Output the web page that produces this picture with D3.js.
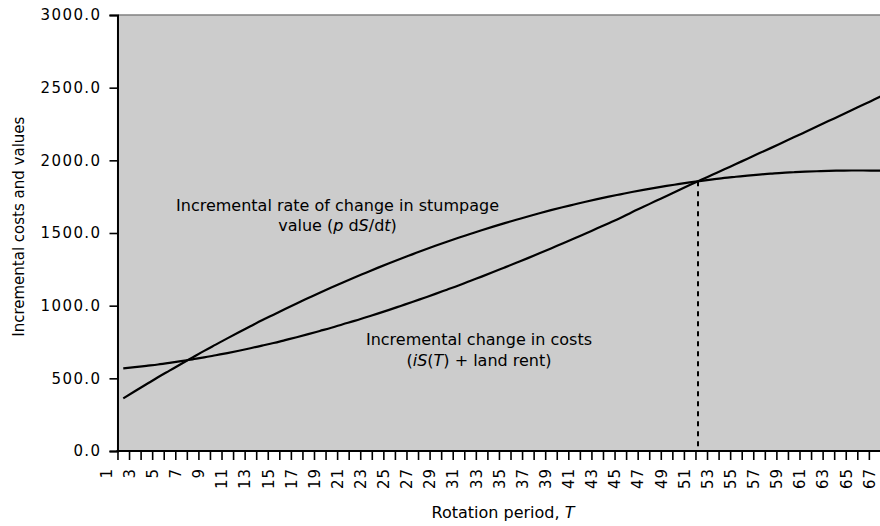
<!DOCTYPE html>
<html>
<head>
<meta charset="utf-8">
<script src="https://cdn.jsdelivr.net/npm/d3@7"></script>
<style>
  html, body { margin: 0; padding: 0; background: #ffffff; }
  svg { display: block; }
  text { font-family: "DejaVu Sans", "Liberation Sans", sans-serif; fill: #000; }
</style>
</head>
<body>
<svg id="chart" width="880" height="526"></svg>
<script>
// Rotation period T (years) at which each incremental value is plotted
const periods = [2,3,4,5,6,7,8,9,10,11,12,13,14,15,16,17,18,19,20,21,22,23,24,25,26,27,28,29,30,
  31,32,33,34,35,36,37,38,39,40,41,42,43,44,45,46,47,48,49,50,51,52,53,54,55,56,57,58,59,60,
  61,62,63,64,65,66,67,68];

// Incremental rate of change in stumpage value, p dS/dt
const stumpageRate = [362,411,459,507,553,599,644,689,732,775,817,858,899,938,977,1015,1052,1089,
  1125,1160,1194,1227,1260,1292,1323,1353,1383,1412,1440,1467,1493,1519,1544,1568,1591,1614,1636,
  1657,1677,1696,1715,1733,1750,1766,1782,1797,1811,1824,1836,1848,1859,1869,1879,1887,1895,1902,
  1908,1914,1918,1922,1925,1928,1929,1930,1930,1929,1928];

// Incremental change in costs, iS(T) + land rent
const costChange = [569,577,586,595,606,618,631,644,659,674,690,707,725,743,763,783,804,826,848,
  872,895,920,945,971,998,1025,1053,1081,1110,1139,1170,1200,1231,1263,1295,1327,1360,1394,1428,
  1462,1497,1532,1567,1603,1643,1680,1718,1755,1793,1830,1866,1902,1938,1975,2011,2048,2084,2121,
  2158,2195,2232,2270,2307,2345,2382,2420,2458];

// Axis tick values and labels
const periodLabels = [1,3,5,7,9,11,13,15,17,19,21,23,25,27,29,31,33,35,37,39,41,43,45,47,49,51,
  53,55,57,59,61,63,65,67];
const periodBounds = [1.5,2.5,3.5,4.5,5.5,6.5,7.5,8.5,9.5,10.5,11.5,12.5,13.5,14.5,15.5,16.5,17.5,
  18.5,19.5,20.5,21.5,22.5,23.5,24.5,25.5,26.5,27.5,28.5,29.5,30.5,31.5,32.5,33.5,34.5,35.5,36.5,
  37.5,38.5,39.5,40.5,41.5,42.5,43.5,44.5,45.5,46.5,47.5,48.5,49.5,50.5,51.5,52.5,53.5,54.5,55.5,
  56.5,57.5,58.5,59.5,60.5,61.5,62.5,63.5,64.5,65.5,66.5,67.5];
const valueTicks = [0,500,1000,1500,2000,2500,3000];

const svg = d3.select("#chart");
const W = 880;

const x = d3.scaleLinear().domain([1, 68]).range([111.7, 886.2]);
const y = d3.scaleLinear().domain([0, 3000]).range([451, 15]);

const plotLeft = x(1.5), plotRight = x(68.5), plotTop = y(3000), plotBottom = y(0);

// plot area
svg.append("rect")
  .attr("x", plotLeft).attr("y", plotTop)
  .attr("width", plotRight - plotLeft).attr("height", plotBottom - plotTop)
  .attr("fill", "#cccccc");
svg.append("line")
  .attr("x1", plotLeft).attr("x2", W).attr("y1", plotTop).attr("y2", plotTop)
  .attr("stroke", "#808080").attr("stroke-width", 1.5);

svg.append("clipPath").attr("id", "plotClip")
  .append("rect")
  .attr("x", plotLeft).attr("y", plotTop - 2)
  .attr("width", W - plotLeft).attr("height", plotBottom - plotTop + 2);

const series = [stumpageRate, costChange];
const line = d3.line()
  .x((d, i) => x(periods[i]))
  .y(d => y(d))
  .curve(d3.curveMonotoneX);

const g = svg.append("g").attr("clip-path", "url(#plotClip)");
series.forEach(vals => {
  g.append("path")
    .attr("d", line(vals))
    .attr("fill", "none")
    .attr("stroke", "#000")
    .attr("stroke-width", 2.2)
    .attr("stroke-linejoin", "round");
});

// crossing of the two curves
let cross = null;
for (let i = 1; i < periods.length && !cross; i++) {
  const d0 = stumpageRate[i - 1] - costChange[i - 1];
  const d1 = stumpageRate[i] - costChange[i];
  if (d0 > 0 && d1 <= 0) {
    const f = d0 / (d0 - d1);
    cross = {
      t: periods[i - 1] + f * (periods[i] - periods[i - 1]),
      v: stumpageRate[i - 1] + f * (stumpageRate[i] - stumpageRate[i - 1])
    };
  }
}
if (cross) {
  svg.append("line")
    .attr("x1", x(cross.t)).attr("x2", x(cross.t))
    .attr("y1", y(cross.v)).attr("y2", plotBottom)
    .attr("stroke", "#000").attr("stroke-width", 2)
    .attr("stroke-dasharray", "5,5");
}

// value axis
const yAxis = svg.append("g")
  .attr("transform", `translate(${plotLeft},0)`)
  .call(d3.axisLeft(y).tickValues(valueTicks).tickSize(8).tickPadding(8)
    .tickFormat(d => d.toFixed(1)));
yAxis.select(".domain").attr("stroke", "#000").attr("stroke-width", 2);
yAxis.selectAll(".tick line").attr("stroke", "#000").attr("stroke-width", 1.6);
yAxis.selectAll(".tick text")
  .style("font-family", '"DejaVu Sans", sans-serif')
  .style("font-size", "15px")
  .style("letter-spacing", "1.4px")
  .attr("fill", "#000");

// period axis
const xAxis = svg.append("g")
  .attr("transform", `translate(0,${plotBottom})`)
  .call(d3.axisBottom(x).tickValues(periodBounds).tickSize(9).tickFormat(""));
xAxis.select(".domain").remove();
xAxis.selectAll(".tick line").attr("stroke", "#000").attr("stroke-width", 1.6);
svg.append("line")
  .attr("x1", plotLeft - 1).attr("x2", W).attr("y1", plotBottom).attr("y2", plotBottom)
  .attr("stroke", "#000").attr("stroke-width", 2);

svg.append("g").selectAll("text")
  .data(periodLabels)
  .join("text")
  .attr("transform", d => `translate(${x(d)},${plotBottom + 17}) rotate(-90)`)
  .attr("text-anchor", "end")
  .style("font-size", "15px")
  .style("letter-spacing", "1px")
  .text(d => d);

// axis titles
svg.append("text")
  .attr("transform", "translate(24,226.7) rotate(-90)")
  .attr("text-anchor", "middle")
  .style("font-size", "15px")
  .text("Incremental costs and values");

const xt = svg.append("text")
  .attr("x", 503).attr("y", 518)
  .attr("text-anchor", "middle")
  .style("font-size", "16px");
xt.append("tspan").text("Rotation period, ");
xt.append("tspan").style("font-style", "italic").text("T");

// curve annotations
function annotate(cx, y0, lines) {
  const t = svg.append("text").attr("text-anchor", "middle").style("font-size", "16px");
  lines.forEach((parts, li) => {
    parts.forEach((p, pi) => {
      const s = t.append("tspan").text(p[0]);
      if (pi === 0) s.attr("x", cx).attr("y", y0 + li * 20.5);
      if (p[1]) s.style("font-style", "italic");
    });
  });
}
annotate(337.5, 210.5, [
  [["Incremental rate of change in stumpage"]],
  [["value ("], ["p", true], [" d"], ["S", true], ["/d"], ["t", true], [")"]]
]);
annotate(479, 345, [
  [["Incremental change in costs"]],
  [["("], ["iS", true], ["("], ["T", true], [") + land rent)"]]
]);
</script>
</body>
</html>
